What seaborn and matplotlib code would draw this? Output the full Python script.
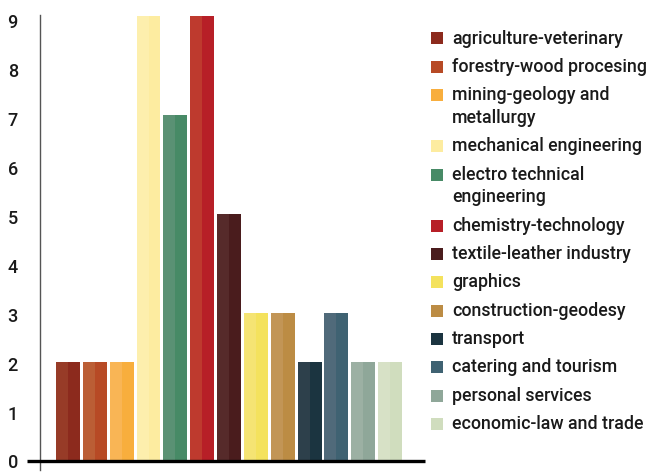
import matplotlib
matplotlib.use("Agg")
import matplotlib.pyplot as plt
from matplotlib.patches import Rectangle
from matplotlib.transforms import ScaledTranslation
import pandas as pd
import seaborn as sns

# Number of schools per vocational field
categories = [
    "agriculture-veterinary",
    "forestry-wood procesing",
    "mining-geology and\nmetallurgy",
    "mechanical engineering",
    "electro technical\nengineering",
    "chemistry-technology",
    "textile-leather industry",
    "graphics",
    "construction-geodesy",
    "transport",
    "catering and tourism",
    "personal services",
    "economic-law and trade",
]
counts = [2, 2, 2, 9, 7, 9, 5, 3, 3, 2, 3, 2, 2]

# main colour of each bar and the lighter tone used on its left half
colors = ["#8C2A1D", "#B74A25", "#F8AE3D", "#FDECA0", "#478A66", "#B71F27",
          "#4A1C1D", "#F4E25D", "#BC8C44", "#1B3440", "#3F6272", "#8FA799",
          "#D0DDBE"]
light_colors = ["#973B27", "#BB5E35", "#F9B555", "#FDEFAD", "#5A9174", "#BE3A2E",
                "#562A2A", "#F5E473", "#C29556", "#2D404B", "#506A7A", "#9CB0A3",
                "#D7E1C6"]
yticks = list(range(0, 10))

W, H = 646, 473
sns.set_theme(style="white")
plt.rcParams["font.family"] = ["Roboto", "DejaVu Sans"]
TEXT = "#1a1a1a"

fig = plt.figure(figsize=(W / 100, H / 100), dpi=100)
ax = fig.add_axes([40 / W, 1 - 470 / H, 385 / W, 455 / H])

df = pd.DataFrame({"category": categories, "count": counts})
sns.barplot(data=df, x="category", y="count", hue="category",
            palette=dict(zip(categories, colors)), order=categories,
            hue_order=categories, width=0.89, saturation=1, legend=False,
            ax=ax, linewidth=0)

# lighter left half on every bar
for patch, lc in zip(ax.patches[:len(categories)], light_colors):
    x0, w, h = patch.get_x(), patch.get_width(), patch.get_height()
    ax.add_patch(Rectangle((x0, 0), w / 2, h, facecolor=lc, edgecolor="none",
                           zorder=patch.get_zorder() + 0.1))

ax.set_xlim(-1.044, 13.30)
ax.set_ylim(-0.172, 9.02)
ax.set_xticks([])
ax.set_yticks(yticks)
ax.set_yticklabels([str(t) for t in yticks], fontsize=13, color=TEXT,
                   fontweight="medium")
ax.tick_params(axis="y", length=0, pad=16)
# the tick labels sit a little lower the higher they go
for t, lab in zip(yticks, ax.get_yticklabels()):
    lab.set_transform(lab.get_transform()
                      + ScaledTranslation(0, -0.006 * t, fig.dpi_scale_trans))
ax.set_xlabel("")
ax.set_ylabel("")

for side in ("top", "right", "bottom"):
    ax.spines[side].set_visible(False)
ax.spines["left"].set_color("#555555")
ax.spines["left"].set_linewidth(1.0)

# heavy baseline running slightly past the vertical axis
ax.plot([-1.53, 13.30], [0, 0], color="black", lw=2.4, clip_on=False,
        solid_capstyle="butt", zorder=6)

# legend drawn as a column of swatches and labels
def fx(px):
    return px / W


def fy(py):
    return 1 - py / H


y = 38.5
for label, c in zip(categories, colors):
    lines = label.split("\n")
    fig.add_artist(Rectangle((fx(431), fy(y + 6)), 12 / W, 12 / H,
                             transform=fig.transFigure, facecolor=c,
                             edgecolor="none"))
    for k, line in enumerate(lines):
        fig.text(fx(452), fy(y + 22.5 * k), line, fontsize=12.8,
                 color=TEXT, va="center", ha="left", fontweight="medium")
    y += 28.4 + 22.5 * (len(lines) - 1)

fig.savefig("out.png", dpi=100)
